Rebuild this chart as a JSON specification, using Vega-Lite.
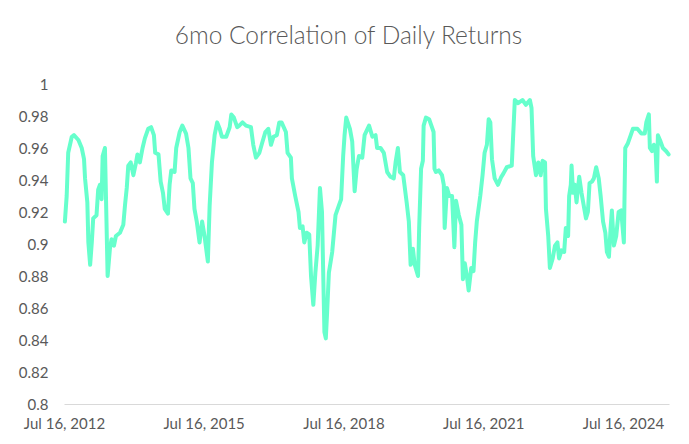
{
  "$schema": "https://vega.github.io/schema/vega-lite/v6.json",
  "width": 605,
  "height": 320,
  "autosize": {"type": "none"},
  "padding": {"left": 64, "top": 84, "right": 20, "bottom": 40},
  "background": "white",
  "title": {"text": "6mo Correlation of Daily Returns", "font": "Lato", "fontSize": 24.5, "fontWeight": 300, "color": "#595959", "anchor": "middle", "frame": "group", "dx": -18, "offset": 28},
  "config": {"view": {"stroke": null}, "axis": {"labelFont": "Lato", "labelFontSize": 15, "labelColor": "#595959"}},
  "data": {"values": [
    {"date":"2012-07-23","corr":0.914},{"date":"2012-08-06","corr":0.930},{"date":"2012-08-18","corr":0.957},{"date":"2012-09-15","corr":0.967},{"date":"2012-10-02","corr":0.968},{"date":"2012-11-06","corr":0.965},{"date":"2012-12-02","corr":0.960},{"date":"2012-12-20","corr":0.953},{"date":"2012-12-28","corr":0.941},
    {"date":"2013-01-15","corr":0.926},{"date":"2013-01-23","corr":0.901},{"date":"2013-02-06","corr":0.887},{"date":"2013-02-19","corr":0.901},{"date":"2013-03-02","corr":0.916},{"date":"2013-03-28","corr":0.918},{"date":"2013-04-10","corr":0.934},{"date":"2013-04-24","corr":0.937},{"date":"2013-05-07","corr":0.928},{"date":"2013-05-15","corr":0.955},{"date":"2013-06-02","corr":0.960},{"date":"2013-06-10","corr":0.930},{"date":"2013-06-23","corr":0.880},{"date":"2013-07-11","corr":0.897},{"date":"2013-07-24","corr":0.903},{"date":"2013-08-12","corr":0.899},{"date":"2013-08-27","corr":0.905},{"date":"2013-09-28","corr":0.907},{"date":"2013-10-24","corr":0.912},{"date":"2013-11-06","corr":0.924},{"date":"2013-11-20","corr":0.935},{"date":"2013-12-02","corr":0.949},{"date":"2013-12-21","corr":0.951},
    {"date":"2014-01-11","corr":0.943},{"date":"2014-02-01","corr":0.951},{"date":"2014-02-12","corr":0.956},{"date":"2014-03-03","corr":0.951},{"date":"2014-03-24","corr":0.960},{"date":"2014-04-11","corr":0.966},{"date":"2014-05-07","corr":0.972},{"date":"2014-05-30","corr":0.973},{"date":"2014-06-21","corr":0.968},{"date":"2014-07-01","corr":0.957},{"date":"2014-07-27","corr":0.956},{"date":"2014-08-13","corr":0.939},{"date":"2014-08-31","corr":0.932},{"date":"2014-09-14","corr":0.922},{"date":"2014-10-09","corr":0.919},{"date":"2014-10-22","corr":0.937},{"date":"2014-11-04","corr":0.946},{"date":"2014-11-30","corr":0.945},{"date":"2014-12-13","corr":0.960},
    {"date":"2015-01-09","corr":0.970},{"date":"2015-01-30","corr":0.974},{"date":"2015-02-28","corr":0.969},{"date":"2015-03-19","corr":0.960},{"date":"2015-04-04","corr":0.941},{"date":"2015-04-22","corr":0.938},{"date":"2015-05-05","corr":0.922},{"date":"2015-05-23","corr":0.914},{"date":"2015-06-14","corr":0.901},{"date":"2015-07-04","corr":0.914},{"date":"2015-07-23","corr":0.905},{"date":"2015-08-18","corr":0.889},{"date":"2015-09-01","corr":0.924},{"date":"2015-09-19","corr":0.951},{"date":"2015-10-10","corr":0.968},{"date":"2015-10-30","corr":0.976},{"date":"2015-11-19","corr":0.972},{"date":"2015-12-06","corr":0.967},
    {"date":"2016-01-09","corr":0.967},{"date":"2016-02-05","corr":0.973},{"date":"2016-02-18","corr":0.981},{"date":"2016-03-09","corr":0.979},{"date":"2016-04-04","corr":0.973},{"date":"2016-04-20","corr":0.974},{"date":"2016-05-16","corr":0.976},{"date":"2016-06-12","corr":0.974},{"date":"2016-07-21","corr":0.973},{"date":"2016-08-08","corr":0.962},{"date":"2016-08-29","corr":0.954},{"date":"2016-09-25","corr":0.957},{"date":"2016-10-16","corr":0.963},{"date":"2016-11-11","corr":0.970},{"date":"2016-12-04","corr":0.972},{"date":"2016-12-25","corr":0.962},
    {"date":"2017-01-13","corr":0.967},{"date":"2017-02-09","corr":0.968},{"date":"2017-02-28","corr":0.976},{"date":"2017-03-18","corr":0.976},{"date":"2017-04-21","corr":0.970},{"date":"2017-05-04","corr":0.957},{"date":"2017-05-30","corr":0.954},{"date":"2017-06-07","corr":0.941},{"date":"2017-07-03","corr":0.930},{"date":"2017-07-29","corr":0.920},{"date":"2017-08-09","corr":0.910},{"date":"2017-08-30","corr":0.911},{"date":"2017-09-12","corr":0.901},{"date":"2017-10-01","corr":0.907},{"date":"2017-10-21","corr":0.906},{"date":"2017-11-04","corr":0.880},{"date":"2017-11-22","corr":0.862},{"date":"2017-12-08","corr":0.882},{"date":"2017-12-26","corr":0.899},
    {"date":"2018-01-13","corr":0.935},{"date":"2018-01-29","corr":0.920},{"date":"2018-02-09","corr":0.876},{"date":"2018-02-17","corr":0.845},{"date":"2018-02-28","corr":0.841},{"date":"2018-03-10","corr":0.857},{"date":"2018-03-24","corr":0.882},{"date":"2018-04-19","corr":0.895},{"date":"2018-05-15","corr":0.918},{"date":"2018-06-10","corr":0.924},{"date":"2018-06-28","corr":0.928},{"date":"2018-07-14","corr":0.955},{"date":"2018-07-25","corr":0.968},{"date":"2018-08-07","corr":0.979},{"date":"2018-09-05","corr":0.972},{"date":"2018-09-23","corr":0.964},{"date":"2018-10-12","corr":0.933},{"date":"2018-10-28","corr":0.947},{"date":"2018-11-15","corr":0.955},{"date":"2018-12-11","corr":0.954},{"date":"2018-12-29","corr":0.968},
    {"date":"2019-02-02","corr":0.974},{"date":"2019-02-28","corr":0.967},{"date":"2019-03-25","corr":0.968},{"date":"2019-04-06","corr":0.960},{"date":"2019-05-03","corr":0.960},{"date":"2019-05-29","corr":0.957},{"date":"2019-06-24","corr":0.945},{"date":"2019-07-20","corr":0.942},{"date":"2019-08-15","corr":0.941},{"date":"2019-08-29","corr":0.951},{"date":"2019-09-16","corr":0.960},{"date":"2019-10-02","corr":0.945},{"date":"2019-10-28","corr":0.943},{"date":"2019-11-24","corr":0.926},{"date":"2019-12-11","corr":0.914},{"date":"2019-12-25","corr":0.887},
    {"date":"2020-01-12","corr":0.897},{"date":"2020-01-26","corr":0.887},{"date":"2020-02-21","corr":0.880},{"date":"2020-03-01","corr":0.910},{"date":"2020-03-16","corr":0.947},{"date":"2020-03-30","corr":0.952},{"date":"2020-04-05","corr":0.974},{"date":"2020-04-23","corr":0.979},{"date":"2020-05-18","corr":0.978},{"date":"2020-06-09","corr":0.973},{"date":"2020-06-22","corr":0.970},{"date":"2020-06-29","corr":0.947},{"date":"2020-07-10","corr":0.945},{"date":"2020-08-01","corr":0.946},{"date":"2020-08-27","corr":0.943},{"date":"2020-09-10","corr":0.937},{"date":"2020-09-17","corr":0.910},{"date":"2020-10-05","corr":0.935},{"date":"2020-10-23","corr":0.930},{"date":"2020-11-14","corr":0.930},{"date":"2020-12-02","corr":0.898},{"date":"2020-12-15","corr":0.927},
    {"date":"2021-01-06","corr":0.918},{"date":"2021-01-26","corr":0.912},{"date":"2021-02-07","corr":0.878},{"date":"2021-02-22","corr":0.888},{"date":"2021-03-10","corr":0.880},{"date":"2021-03-24","corr":0.871},{"date":"2021-04-13","corr":0.885},{"date":"2021-05-01","corr":0.883},{"date":"2021-05-14","corr":0.901},{"date":"2021-05-27","corr":0.914},{"date":"2021-06-23","corr":0.930},{"date":"2021-07-11","corr":0.943},{"date":"2021-07-27","corr":0.957},{"date":"2021-08-14","corr":0.962},{"date":"2021-08-28","corr":0.978},{"date":"2021-09-10","corr":0.976},{"date":"2021-09-23","corr":0.953},{"date":"2021-10-14","corr":0.941},{"date":"2021-11-09","corr":0.937},{"date":"2021-12-05","corr":0.942},{"date":"2021-12-21","corr":0.944},
    {"date":"2022-01-17","corr":0.948},{"date":"2022-02-25","corr":0.949},{"date":"2022-03-07","corr":0.966},{"date":"2022-03-21","corr":0.990},{"date":"2022-04-16","corr":0.988},{"date":"2022-05-20","corr":0.990},{"date":"2022-06-16","corr":0.987},{"date":"2022-07-17","corr":0.990},{"date":"2022-07-30","corr":0.985},{"date":"2022-08-12","corr":0.955},{"date":"2022-09-03","corr":0.943},{"date":"2022-09-21","corr":0.951},{"date":"2022-10-10","corr":0.943},{"date":"2022-10-25","corr":0.952},{"date":"2022-11-13","corr":0.951},{"date":"2022-11-20","corr":0.922},{"date":"2022-12-08","corr":0.905},{"date":"2022-12-21","corr":0.885},
    {"date":"2023-01-12","corr":0.891},{"date":"2023-01-30","corr":0.899},{"date":"2023-02-18","corr":0.901},{"date":"2023-03-03","corr":0.891},{"date":"2023-03-22","corr":0.896},{"date":"2023-04-12","corr":0.895},{"date":"2023-04-25","corr":0.910},{"date":"2023-05-13","corr":0.905},{"date":"2023-05-21","corr":0.930},{"date":"2023-06-03","corr":0.937},{"date":"2023-06-09","corr":0.949},{"date":"2023-06-21","corr":0.932},{"date":"2023-07-04","corr":0.937},{"date":"2023-07-18","corr":0.926},{"date":"2023-08-08","corr":0.942},{"date":"2023-08-26","corr":0.932},{"date":"2023-09-30","corr":0.916},{"date":"2023-10-15","corr":0.920},{"date":"2023-10-28","corr":0.938},{"date":"2023-11-16","corr":0.939},{"date":"2023-12-01","corr":0.941},{"date":"2023-12-19","corr":0.948},
    {"date":"2024-01-08","corr":0.941},{"date":"2024-01-23","corr":0.930},{"date":"2024-02-11","corr":0.914},{"date":"2024-02-29","corr":0.907},{"date":"2024-03-12","corr":0.895},{"date":"2024-03-28","corr":0.892},{"date":"2024-04-10","corr":0.910},{"date":"2024-04-20","corr":0.921},{"date":"2024-05-06","corr":0.899},{"date":"2024-05-24","corr":0.905},{"date":"2024-06-12","corr":0.920},{"date":"2024-07-02","corr":0.921},{"date":"2024-07-23","corr":0.901},{"date":"2024-08-03","corr":0.960},{"date":"2024-08-24","corr":0.963},{"date":"2024-09-15","corr":0.968},{"date":"2024-10-02","corr":0.972},{"date":"2024-11-06","corr":0.972},{"date":"2024-12-07","corr":0.969},
    {"date":"2025-01-03","corr":0.969},{"date":"2025-01-15","corr":0.976},{"date":"2025-02-04","corr":0.981},{"date":"2025-02-12","corr":0.960},{"date":"2025-03-01","corr":0.958},{"date":"2025-03-15","corr":0.962},{"date":"2025-03-28","corr":0.960},{"date":"2025-04-08","corr":0.939},{"date":"2025-04-16","corr":0.968},{"date":"2025-05-07","corr":0.964},{"date":"2025-05-25","corr":0.960},{"date":"2025-06-20","corr":0.958},{"date":"2025-07-09","corr":0.956}
  ]},
  "mark": {"type": "line", "color": "#66FFCC", "strokeWidth": 4, "strokeJoin": "round", "strokeCap": "round"},
  "encoding": {
    "x": {
      "field": "date", "type": "temporal",
      "scale": {"type": "utc", "domain": [{"year": 2012, "month": 7, "date": 16, "utc": true}, {"year": 2025, "month": 7, "date": 12, "utc": true}]},
      "axis": {
        "values": [{"year": 2012, "month": 7, "date": 16, "utc": true}, {"year": 2015, "month": 7, "date": 16, "utc": true}, {"year": 2018, "month": 7, "date": 16, "utc": true}, {"year": 2021, "month": 7, "date": 16, "utc": true}, {"year": 2024, "month": 7, "date": 16, "utc": true}],
        "format": "%b %d, %Y", "title": null, "grid": false, "ticks": false, "tickSize": 0, "labelPadding": 12,
        "domainColor": "#d9d9d9", "domainWidth": 1, "labelFlush": false, "labelOverlap": false
      }
    },
    "y": {
      "field": "corr", "type": "quantitative",
      "scale": {"domain": [0.8, 1], "nice": false, "zero": false},
      "axis": {
        "values": [0.8, 0.82, 0.84, 0.86, 0.88, 0.9, 0.92, 0.94, 0.96, 0.98, 1],
        "format": ".2~f", "title": null, "grid": false, "domain": false, "ticks": false, "tickSize": 0, "labelPadding": 16
      }
    }
  }
}
